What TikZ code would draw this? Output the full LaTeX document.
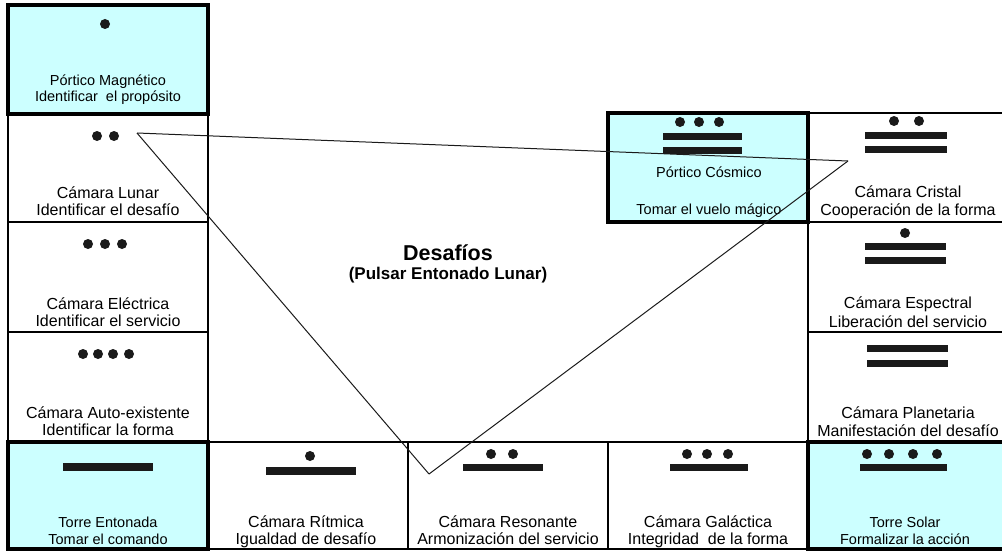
\documentclass[tikz,border=0pt]{standalone}
\usepackage{fontspec}
\setmainfont{Liberation Sans}
\definecolor{cyanfill}{HTML}{CCFFFF}
\definecolor{ink}{HTML}{1A1A1A}
\begin{document}
\begin{tikzpicture}[x=1pt,y=-1pt,
  cell/.style={draw=black,line width=2pt},
  tower/.style={draw=black,line width=4pt,fill=cyanfill},
  camtxt/.style={anchor=base,inner sep=0pt,font=\fontsize{16}{17}\selectfont},
  portxt/.style={anchor=base,inner sep=0pt,font=\fontsize{14.5}{17}\selectfont},
  dotm/.style={fill=ink},
  barm/.style={fill=ink},
  link/.style={draw=ink,line width=1pt}]
\useasboundingbox (0,0) rectangle (1002,551);
\clip (0,0) rectangle (1002,551);
% thin cells
\draw[cell] (8,114) rectangle (208,222);
\draw[cell] (8,222) rectangle (208,332);
\draw[cell] (8,332) rectangle (208,442);
\draw[cell] (208,442) rectangle (408,549);
\draw[cell] (408,442) rectangle (608,549);
\draw[cell] (608,442) rectangle (808,549);
\draw[cell] (808,113) rectangle (1010,222);
\draw[cell] (808,222) rectangle (1010,332);
\draw[cell] (808,332) rectangle (1010,442);
% thick cells
\draw[tower] (8,5) rectangle (208,114);
\draw[tower] (608,113) rectangle (808,222);
\draw[tower] (8,442) rectangle (208,549);
\draw[tower] (808,442) rectangle (1010,549);
% numerals
\fill[dotm] (105,24) circle (5);
\fill[dotm] (97,136) circle (5); \fill[dotm] (114,136) circle (5);
\foreach \x in {88,105,122} \fill[dotm] (\x,244) circle (5);
\foreach \x in {83,98,113,129} \fill[dotm] (\x,354) circle (5);
% Cristal
\fill[dotm] (894,121) circle (5); \fill[dotm] (919,121) circle (5);
\fill[barm] (865,132) rectangle (947,139);
\fill[barm] (865,146) rectangle (947,153);
% Cosmico
\foreach \x in {680,699,719} \fill[dotm] (\x,122) circle (5);
\fill[barm] (663,133) rectangle (742,140);
\fill[barm] (663,147) rectangle (742,154);
% Espectral
\fill[dotm] (905,233) circle (5);
\fill[barm] (865,243) rectangle (946,250);
\fill[barm] (865,257) rectangle (946,264);
% Planetaria
\fill[barm] (867,345) rectangle (948,352);
\fill[barm] (867,360) rectangle (948,367);
% Entonada
\fill[barm] (63,463) rectangle (153,471);
% Ritmica
\fill[dotm] (310,456) circle (5);
\fill[barm] (266,467) rectangle (356,475);
% Resonante
\fill[dotm] (491,454) circle (5); \fill[dotm] (513,454) circle (5);
\fill[barm] (463,464) rectangle (543,471);
% Galactica
\foreach \x in {687,707,728} \fill[dotm] (\x,454) circle (5);
\fill[barm] (670,464) rectangle (748,471);
% Solar
\foreach \x in {867,889,913,937} \fill[dotm] (\x,454) circle (5);
\fill[barm] (860,464) rectangle (947,471);
% texts
\node[portxt] (t1a) at (108,85) {Pórtico Magnético};
\node[portxt] (t1b) at (108,102) {Identificar\ \ el propósito};
\node[camtxt] (t2a) at (108,198) {Cámara Lunar};
\node[camtxt] (t2b) at (108,215) {Identificar el desafío};
\node[camtxt] (t3a) at (108,309) {Cámara Eléctrica};
\node[camtxt] (t3b) at (108,326) {Identificar el servicio};
\node[camtxt] (t4a) at (108,418) {Cámara Auto-existente};
\node[camtxt] (t4b) at (108,435) {Identificar la forma};
\node[portxt] (t5a) at (108,527) {Torre Entonada};
\node[portxt] (t5b) at (108,544) {Tomar el comando};
\node[camtxt] (t6a) at (306,527) {Cámara Rítmica};
\node[camtxt] (t6b) at (306,544) {Igualdad de desafío};
\node[camtxt] (t7a) at (508,527) {Cámara Resonante};
\node[camtxt] (t7b) at (508,544) {Armonización del servicio};
\node[camtxt] (t8a) at (708,527) {Cámara Galáctica};
\node[camtxt] (t8b) at (708,544) {Integridad\ \ de la forma};
\node[portxt] (t9a) at (905,527) {Torre Solar};
\node[portxt] (t9b) at (905,544) {Formalizar la acción};
\node[camtxt] (t10a) at (908,418) {Cámara Planetaria};
\node[camtxt] (t10b) at (908,436) {Manifestación del desafío};
\node[camtxt] (t11a) at (908,308) {Cámara Espectral};
\node[camtxt] (t11b) at (908,327) {Liberación del servicio};
\node[camtxt] (t12a) at (908,197) {Cámara Cristal};
\node[camtxt] (t12b) at (908,215) {Cooperación de la forma};
\node[portxt] (t13a) at (709,177) {Pórtico Cósmico};
\node[portxt] (t13b) at (709,214) {Tomar el vuelo mágico};
\node[anchor=base,inner sep=0pt,font=\fontsize{21.5}{24}\selectfont\bfseries] (title) at (448,260) {Desafíos};
\node[anchor=base,inner sep=0pt,font=\fontsize{17}{20}\selectfont\bfseries] (sub) at (448,279) {(Pulsar Entonado Lunar)};
% triangle
\coordinate (pA) at (137,133);
\coordinate (pB) at (848,161);
\coordinate (pC) at (429,474);
\draw[link] (pA) -- (pB);
\draw[link] (pA) -- (pC);
\draw[link] (pC) -- (pB);
\end{tikzpicture}
\end{document}
